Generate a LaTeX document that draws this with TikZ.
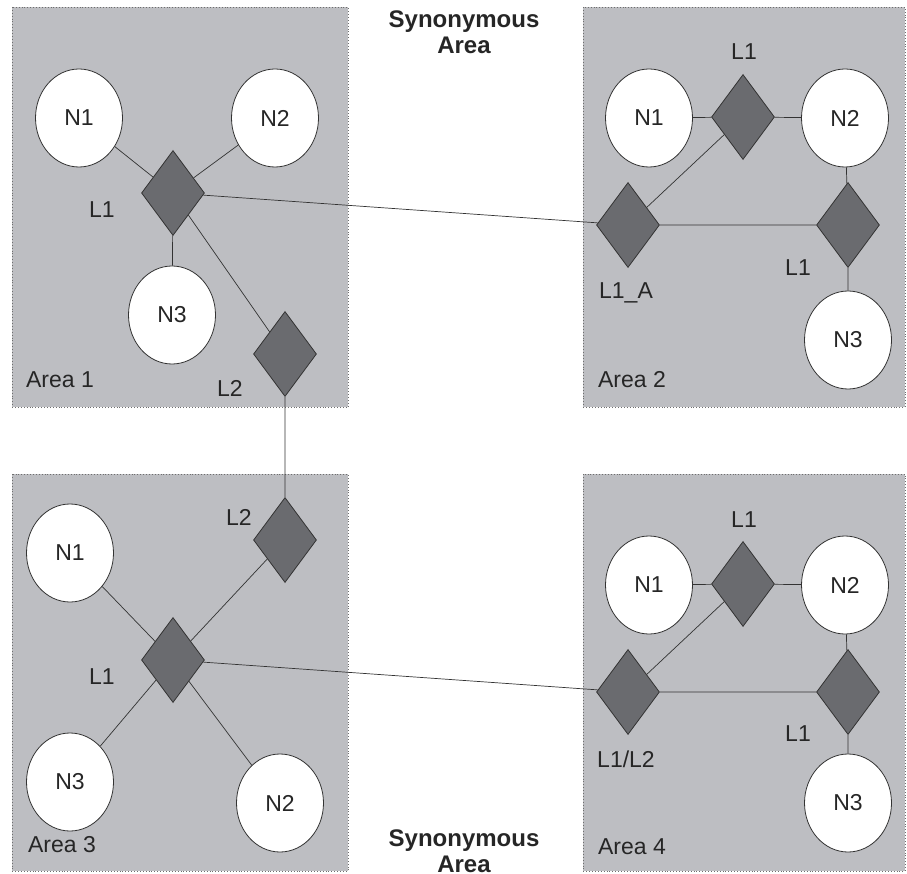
\documentclass[tikz,border=0pt]{standalone}
\usepackage{fontspec}
\setmainfont{Liberation Sans}
\usetikzlibrary{shapes.geometric}

\definecolor{areagray}{RGB}{189,190,194}
\definecolor{routergray}{RGB}{106,107,111}
\definecolor{edgegray}{RGB}{110,110,110}

\begin{document}
\begin{tikzpicture}[x=1pt, y=-1pt, line width=0.8pt,
  every node/.style={font=\fontsize{23}{26}\selectfont, text=black!85},
  area/.style={fill=areagray, draw=edgegray, dotted, line width=0.9pt},
  host/.style={ellipse, draw=black!80, fill=white, minimum width=87pt, minimum height=98pt, inner sep=0pt},
  router/.style={diamond, draw=black!80, fill=routergray, minimum width=63pt, minimum height=85pt, inner sep=0pt},
  link/.style={draw=black!80, line width=0.7pt},
  title/.style={font=\fontsize{24}{26}\selectfont\bfseries, align=center}]
\useasboundingbox (0,0) rectangle (907,874);

% areas
\path[area] (12,7) rectangle (348,407);
\path[area] (583,7) rectangle (905,407);
\path[area] (12,474) rectangle (348,871);
\path[area] (583,474) rectangle (905,871);

% area 1
\node[host] (a1n1) at (79,118) {N1};
\node[host] (a1n2) at (275,118) {N2};
\node[router] (a1l1) at (173,193) {};
\node[host] (a1n3) at (172,315) {N3};
\node[router] (a1l2) at (285,354) {};
\node (a1l1t) at (102,210) {L1};
\node (a1l2t) at (230,388) {L2};
\node (a1t) at (60,380) {Area 1};

% area 2
\node[host] (a2n1) at (649,118) {N1};
\node[router] (a2l1) at (743,117) {};
\node[host] (a2n2) at (845,118) {N2};
\node[router] (a2la) at (628,225) {};
\node[router] (a2lr) at (848,225) {};
\node[host] (a2n3) at (848,340) {N3};
\node (a2l1t) at (744,52) {L1};
\node (a2lat) at (626,293) {L1\_A};
\node (a2lrt) at (798,268) {L1};
\node (a2t) at (632,380) {Area 2};

% area 3
\node[host] (a3n1) at (70,553) {N1};
\node[router] (a3l2) at (285,540) {};
\node[router] (a3l1) at (173,660) {};
\node[host] (a3n3) at (70,782) {N3};
\node[host] (a3n2) at (280,803) {N2};
\node (a3l2t) at (239,517) {L2};
\node (a3l1t) at (102,677) {L1};
\node (a3t) at (62,845) {Area 3};

% area 4
\node[host] (a4n1) at (649,585) {N1};
\node[router] (a4l1) at (743,584) {};
\node[host] (a4n2) at (845,585) {N2};
\node[router] (a4lb) at (628,692) {};
\node[router] (a4lr) at (848,692) {};
\node[host] (a4n3) at (848,803) {N3};
\node (a4l1t) at (744,520) {L1};
\node (a4lbt) at (626,759) {L1/L2};
\node (a4lrt) at (798,734) {L1};
\node (a4t) at (632,847) {Area 4};

\node[title] (top) at (464,32) {Synonymous\\Area};
\node[title] (bot) at (464,851) {Synonymous\\Area};

% links
\path[link]
(a1n1) -- (a1l1)
(a1n2) -- (a1l1)
(a1l1) -- (a1n3)
(a1l1) -- (a1l2)
(a1l1) -- (a2la)
(a1l2) -- (a3l2)

(a2n1) -- (a2l1)
(a2l1) -- (a2n2)
(a2la) -- (a2l1)
(a2la) -- (a2lr)
(a2n2) -- (a2lr)
(a2lr) -- (a2n3)

(a3n1) -- (a3l1)
(a3l2) -- (a3l1)
(a3l1) -- (a3n3)
(a3l1) -- (a3n2)
(a3l1) -- (a4lb)

(a4n1) -- (a4l1)
(a4l1) -- (a4n2)
(a4lb) -- (a4l1)
(a4lb) -- (a4lr)
(a4n2) -- (a4lr)
(a4lr) -- (a4n3);
\end{tikzpicture}
\end{document}
